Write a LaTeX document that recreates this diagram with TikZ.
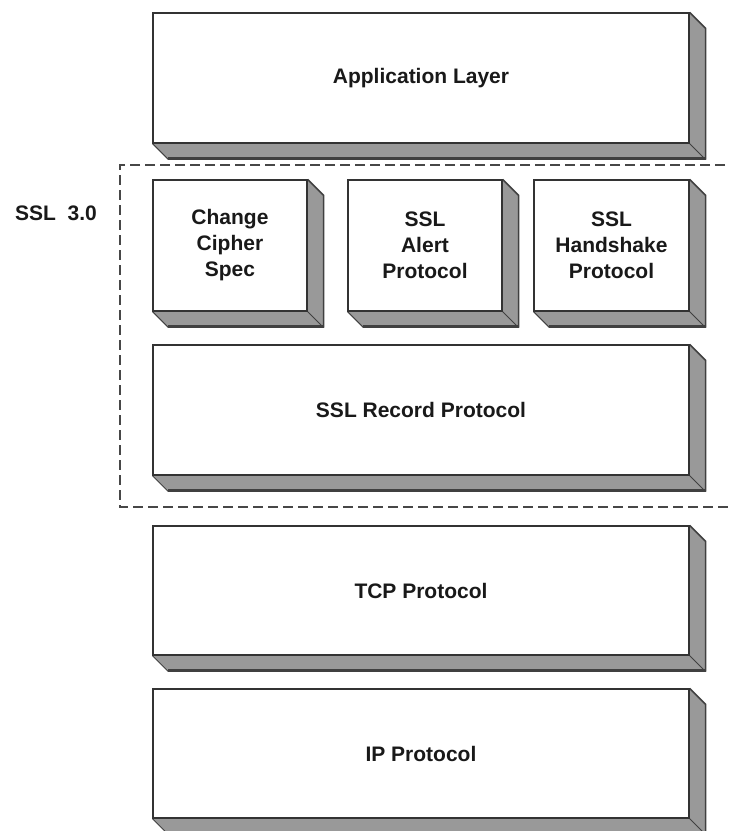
\documentclass[tikz,border=0pt]{standalone}
\usepackage{fontspec}
\setmainfont{Liberation Sans}
\usetikzlibrary{positioning,backgrounds}
\tikzset{
        layer/.style={draw=black!80, line width=1.2pt, fill=white, inner sep=0pt, align=center,
                font=\bfseries\fontsize{21}{26}\selectfont, text=black!90}, % front face of each block
        side/.style={fill=black!40}, % grey depth of each block
        frame/.style={draw=black!72, line width=2.2pt, dash pattern=on 10pt off 5pt}, % the SSL 3.0 box
}
\begin{document}
\begin{tikzpicture}[x=1pt,y=-1pt]
\useasboundingbox (0,0) rectangle (729,831);
\node[layer, minimum width=536, minimum height=130] (app) at (421,78) {Application Layer};
\node[layer, minimum width=154, minimum height=131] (ccs) at (230,245.5) {Change\\Cipher\\Spec};
\node[layer, minimum width=154, minimum height=131] (alert) at (425,245.5) {SSL\\Alert\\Protocol};
\node[layer, minimum width=155, minimum height=131] (hand) at (611.5,245.5) {SSL\\Handshake\\Protocol};
\node[layer, minimum width=536, minimum height=130] (rec) at (421,410) {SSL Record Protocol};
\node[layer, minimum width=536, minimum height=129] (tcp) at (421,590.5) {TCP Protocol};
\node[layer, minimum width=536, minimum height=129] (ip) at (421,753.5) {IP Protocol};
\node[font=\bfseries\fontsize{21}{26}\selectfont, text=black!90] (ssl) at (56,213) {SSL\ \ 3.0};
\draw[frame] (740,165) -| (120,507) -- (740,507);
\begin{scope}[on background layer]
\foreach \n in {app,ccs,alert,hand,rec,tcp,ip}{
        \fill[side] (\n.north east) -- ([shift={(16,16)}]\n.north east) -- ([shift={(16,16)}]\n.south east)
                -- ([shift={(16,16)}]\n.south west) -- (\n.south west) -- (\n.south east) -- cycle;
        \draw[black!75, line width=1.5pt] (\n.north east) -- ([shift={(16,16)}]\n.north east) -- ([shift={(16,16)}]\n.south east);
        \draw[black!75, line width=3pt] ([shift={(16,14.5)}]\n.south east) -- ([shift={(16,14.5)}]\n.south west);
        \draw[black!75, line width=1pt] (\n.south west) -- ([shift={(16,16)}]\n.south west);
        \draw[black!75, line width=1pt] (\n.south east) -- ([shift={(16,16)}]\n.south east);
}
\end{scope}
\end{tikzpicture}
\end{document}
